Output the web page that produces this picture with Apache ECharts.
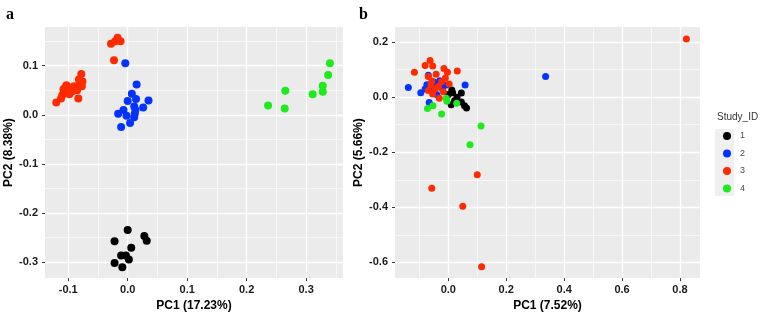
<!DOCTYPE html>
<html>
<head>
<meta charset="utf-8">
<script src="https://cdn.jsdelivr.net/npm/echarts@6/dist/echarts.min.js"></script>
<style>
  html, body { margin: 0; padding: 0; background: #fff; }
  #chart { width: 762px; height: 317px; }
</style>
</head>
<body>
<div id="chart"></div>
<script>
// study IDs and colours
const studies = ['1', '2', '3', '4']
const colors = ['#000000', '#0433ff', '#ff2a00', '#1eea1e']

// panel a: [PC1, PC2]
const aStudy1 = [[0.000, -0.235], [-0.022, -0.258], [0.028, -0.247], [0.032, -0.257], [0.006, -0.271],
  [-0.011, -0.287], [-0.003, -0.287], [0.002, -0.295], [-0.022, -0.302], [-0.009, -0.311]]
const aStudy2 = [[-0.004, 0.105], [0.015, 0.062], [0.007, 0.043], [0.000, 0.028], [0.014, 0.032],
  [0.035, 0.029], [0.026, 0.015], [0.011, 0.017], [-0.007, 0.010], [-0.016, 0.002], [-0.002, -0.002],
  [0.012, 0.002], [0.011, -0.005], [0.004, -0.017], [-0.011, -0.025], [0.013, 0.010]]
const aStudy3 = [[-0.120, 0.025], [-0.112, 0.033], [-0.110, 0.040], [-0.107, 0.045], [-0.105, 0.055],
  [-0.103, 0.060], [-0.100, 0.050], [-0.098, 0.042], [-0.096, 0.055], [-0.093, 0.048], [-0.090, 0.058],
  [-0.088, 0.052], [-0.085, 0.050], [-0.083, 0.033], [-0.082, 0.072], [-0.080, 0.065], [-0.078, 0.083],
  [-0.077, 0.058], [-0.076, 0.068], [-0.108, 0.052],
  [-0.028, 0.145], [-0.021, 0.150], [-0.017, 0.157], [-0.012, 0.150], [-0.023, 0.111]]
const aStudy4 = [[0.340, 0.105], [0.337, 0.081], [0.328, 0.059], [0.328, 0.047], [0.311, 0.042],
  [0.265, 0.049], [0.264, 0.013], [0.236, 0.019]]

// panel b: [PC1, PC2]
const bStudy1 = [[0.012, 0.026], [0.015, 0.016], [0.045, 0.015], [0.010, -0.027], [0.045, -0.017],
  [0.056, -0.031], [0.063, -0.039], [0.000, 0.010], [0.030, 0.000], [0.022, -0.012]]
const bStudy2 = [[-0.138, 0.035], [-0.095, 0.016], [-0.074, 0.045], [-0.069, 0.080], [0.058, 0.044],
  [-0.066, -0.019], [-0.046, 0.039], [-0.006, 0.044], [-0.080, 0.030], [-0.050, 0.055], [-0.030, 0.060],
  [-0.040, 0.010], [-0.020, 0.030], [-0.060, 0.025], [-0.025, 0.050], [0.336, 0.075]]
const bStudy3 = [[-0.117, 0.091], [-0.080, 0.115], [-0.063, 0.133], [-0.054, 0.113], [-0.069, 0.075],
  [-0.042, 0.083], [-0.015, 0.104], [-0.003, 0.091], [0.031, 0.095], [-0.057, 0.059], [-0.023, 0.056],
  [0.003, 0.048], [-0.034, 0.039], [-0.069, 0.024], [-0.054, 0.012], [-0.017, 0.020], [-0.031, -0.004],
  [-0.045, 0.030], [-0.010, 0.070], [-0.060, 0.045],
  [0.822, 0.211], [0.100, -0.282], [-0.057, -0.331], [0.050, -0.396], [0.115, -0.616]]
const bStudy4 = [[0.113, -0.105], [0.075, -0.173], [-0.072, -0.041], [-0.053, -0.031], [-0.023, -0.061],
  [-0.007, -0.004], [-0.005, -0.015], [0.029, -0.022]]

// tick labels
const aXTicks = [-0.1, 0, 0.1, 0.2, 0.3]
const aYTicks = [-0.3, -0.2, -0.1, 0, 0.1]
const bXTicks = [0, 0.2, 0.4, 0.6, 0.8]
const bYTicks = [-0.6, -0.4, -0.2, 0, 0.2]

const aData = [aStudy1, aStudy2, aStudy3, aStudy4]
const bData = [bStudy1, bStudy2, bStudy3, bStudy4]

const labelStyle = { color: '#1a1a1a', fontSize: 11, fontWeight: 'bold', fontFamily: 'Liberation Sans' }
const nameStyle = { color: '#000', fontSize: 12, fontWeight: 'bold', fontFamily: 'Liberation Sans' }

function makeAxis(gridIndex, min, max, ticks, name, nameGap, isY) {
  return {
    type: 'value',
    gridIndex,
    min,
    max,
    name,
    nameLocation: 'middle',
    nameGap,
    nameTextStyle: nameStyle,
    axisLine: { show: false, onZero: false },
    axisTick: { show: true, length: 3, customValues: ticks, lineStyle: { color: '#333', width: 1 } },
    axisLabel: {
      customValues: ticks,
      margin: isY ? 7 : 6,
      ...labelStyle,
      formatter: v => v.toFixed(1)
    },
    splitLine: { show: true, lineStyle: { color: '#fff', width: 1.3 } },
    minorTick: { show: false, splitNumber: 2 },
    minorSplitLine: { show: true, lineStyle: { color: '#fff', width: 0.6 } }
  }
}

function makeSeries(data, axisIdx, size) {
  return data.map((d, i) => ({
    name: studies[i],
    type: 'scatter',
    xAxisIndex: axisIdx,
    yAxisIndex: axisIdx,
    symbolSize: size,
    itemStyle: { color: colors[i], opacity: 1 },
    emphasis: { disabled: true },
    data: d
  }))
}

const chart = echarts.init(document.getElementById('chart'))
chart.setOption({
  animation: false,
  backgroundColor: '#fff',
  title: [
    { text: 'a', left: 1, top: 2, textStyle: { fontFamily: 'Liberation Serif', fontSize: 16, fontWeight: 'bold', color: '#000' } },
    { text: 'b', left: 354, top: 2, textStyle: { fontFamily: 'Liberation Serif', fontSize: 16, fontWeight: 'bold', color: '#000' } },
    { text: 'Study_ID', left: 712, top: 107, textStyle: { fontFamily: 'Liberation Sans', fontSize: 10, fontWeight: 'normal', color: '#333' } }
  ],
  graphic: [
    { type: 'rect', left: 715, top: 129, z: 0, shape: { width: 19, height: 67 }, style: { fill: '#f0f0f0' } }
  ],
  legend: {
    orient: 'vertical',
    left: 723,
    top: 131,
    data: studies,
    icon: 'circle',
    itemWidth: 8,
    itemHeight: 8,
    itemGap: 7.5,
    padding: 0,
    textStyle: { fontFamily: 'Liberation Sans', fontSize: 9, color: '#4d4d4d', lineHeight: 10, padding: [0, 0, 0, 4] },
    selectedMode: false
  },
  grid: [
    { left: 45, top: 27, right: 419, bottom: 34, show: true, backgroundColor: '#ebebeb', borderWidth: 0 },
    { left: 395, top: 27, right: 62, bottom: 35, show: true, backgroundColor: '#ebebeb', borderWidth: 0 }
  ],
  xAxis: [
    makeAxis(0, -0.139, 0.362, aXTicks, 'PC1 (17.23%)', 18, false),
    makeAxis(1, -0.184, 0.869, bXTicks, 'PC1 (7.52%)', 18, false)
  ],
  yAxis: [
    makeAxis(0, -0.333, 0.179, aYTicks, 'PC2 (8.38%)', 27, true),
    makeAxis(1, -0.657, 0.255, bYTicks, 'PC2 (5.66%)', 29, true)
  ],
  series: [...makeSeries(aData, 0, 8), ...makeSeries(bData, 1, 7)]
})
</script>
</body>
</html>
